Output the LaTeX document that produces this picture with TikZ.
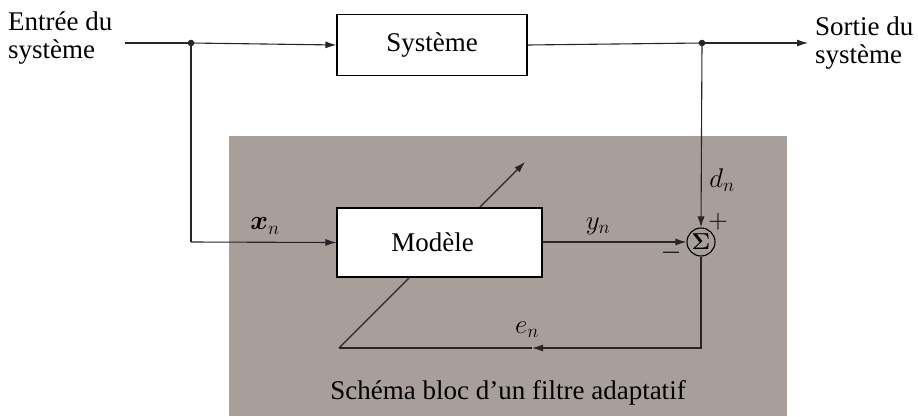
\RequirePackage{fix-cm}
\documentclass[tikz,border=0pt]{standalone}
\usepackage{amsmath}
\usepackage{bm}
\usepackage{fontspec}
\setmainfont{Liberation Serif}
\usetikzlibrary{arrows.meta}
\definecolor{panel}{RGB}{168,159,155}
\pgfdeclarelayer{background}
\pgfsetlayers{background,main}
\begin{document}
\begin{tikzpicture}[x=1pt,y=-1pt,
  every node/.style={font=\fontsize{27}{28}\selectfont},
  blk/.style={draw, fill=white, line width=1.1pt, inner sep=0pt},
  wire/.style={line width=1.1pt, draw={black!85}},
  arr/.style={wire, -{Latex[length=11pt,width=7pt]}},
  lbl/.style={inner sep=0pt}]
\useasboundingbox (0,0) rectangle (918,416);

\node[blk, minimum width=190pt, minimum height=61pt] (sys) at (432,45) {Système};
\node[blk, minimum width=205pt, minimum height=69pt] (mod) at (439.5,242.5) {\hspace*{-14pt}Modèle};
\node[draw, circle, line width=1.1pt, minimum size=28pt, inner sep=0pt] (sum) at (701,242) {\fontsize{23}{23}\selectfont$\bm{\Sigma}$};

\node[lbl, align=left, anchor=base west] (in) at (8,58) {Entrée du\\système};
\node[lbl, align=left, anchor=base west] (out) at (815,63) {Sortie du\\système};

\coordinate (a) at (125,43);
\coordinate (b) at (191,43);
\coordinate (b2) at (191,242);
\coordinate (c) at (702,43);
\coordinate (d) at (808,43);
\coordinate (f1) at (701,348);
\coordinate (f2) at (532,348);
\coordinate (f3) at (339,348);
\coordinate (f4) at (525,162);

\begin{pgfonlayer}{background}
\fill[panel] (229,136) rectangle (787,416);
\draw[arr] (f3) -- (f4);
\end{pgfonlayer}

\draw[wire] (a) -- (b);
\draw[arr] (b) -- (sys.west);
\draw[wire] (sys.east) -- (c);
\draw[arr] (c) -- (d);
\draw[wire] (b) -- (b2);
\draw[arr] (b2) -- (mod.west);
\draw[arr] (c) -- (sum.north);
\draw[arr] (mod.east |- sum) -- (sum.west);
\draw[arr] (sum.south) |- (f2);
\draw[wire] (f2) -- (f3);
\fill[black!85] (b) circle (3.3pt);
\fill[black!85] (c) circle (3.3pt);

\node[lbl] (dn) at (722,180) {$d_n$};
\node[lbl] (yn) at (598,226) {$y_n$};
\node[lbl] (xn) at (265,226) {$\bm{x}_n$};
\node[lbl] (en) at (527,330) {$e_n$};
\node[lbl] (plus) at (718,222) {$+$};
\node[lbl] (minus) at (671,253) {$-$};
\node[lbl] (title) at (508,393) {Schéma bloc d’un filtre adaptatif};
\end{tikzpicture}
\end{document}
